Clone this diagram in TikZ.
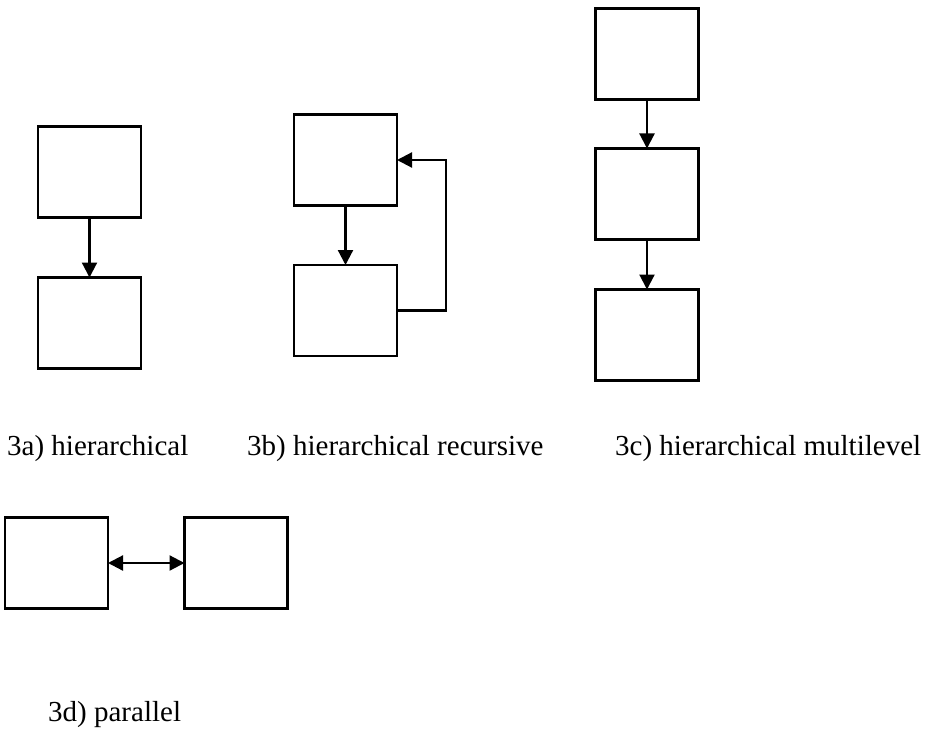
\documentclass[tikz,border=0pt]{standalone}
\usepackage{fontspec}
\setmainfont{Liberation Serif}
\usetikzlibrary{arrows.meta}
\tikzset{
  blk/.style={draw, line width=2.2pt, minimum width=103pt, minimum height=91pt, inner sep=0pt, outer sep=0pt},
  conn/.style={line width=2.2pt, -{Triangle[length=15pt,width=15pt]}},
  biconn/.style={line width=2.2pt, {Triangle[length=15pt,width=15pt]}-{Triangle[length=15pt,width=15pt]}},
  lbl/.style={anchor=base west, inner sep=0pt, font=\fontsize{29}{34}\selectfont}
}
\begin{document}
\begin{tikzpicture}[x=1pt,y=-1pt]
\useasboundingbox (0,0) rectangle (925,730);
% 3a
\node[blk] (a1) at (89.5,172) {};
\node[blk] (a2) at (89.5,323) {};
\draw[conn] (a1.south) -- (a2.north);
% 3b
\node[blk] (b1) at (345.5,160) {};
\node[blk] (b2) at (345.5,310.5) {};
\draw[conn] (b1.south) -- (b2.north);
\coordinate (fb) at (446,0);
\draw[conn] (b2.east) -- (b2.east -| fb) |- (b1.east);
% 3c
\node[blk] (c1) at (647,54) {};
\node[blk] (c2) at (647,194) {};
\node[blk] (c3) at (647,335) {};
\draw[conn] (c1.south) -- (c2.north);
\draw[conn] (c2.south) -- (c3.north);
% 3d
\node[blk] (d1) at (56.5,563) {};
\node[blk] (d2) at (236,563) {};
\draw[biconn] (d1.east) -- (d2.west);
% labels
\node[lbl] (la) at (7,455) {3a) hierarchical};
\node[lbl] (lb) at (247,455) {3b) hierarchical recursive};
\node[lbl] (lc) at (615,455) {3c) hierarchical multilevel};
\node[lbl] (ld) at (48,721) {3d) parallel};
\end{tikzpicture}
\end{document}
